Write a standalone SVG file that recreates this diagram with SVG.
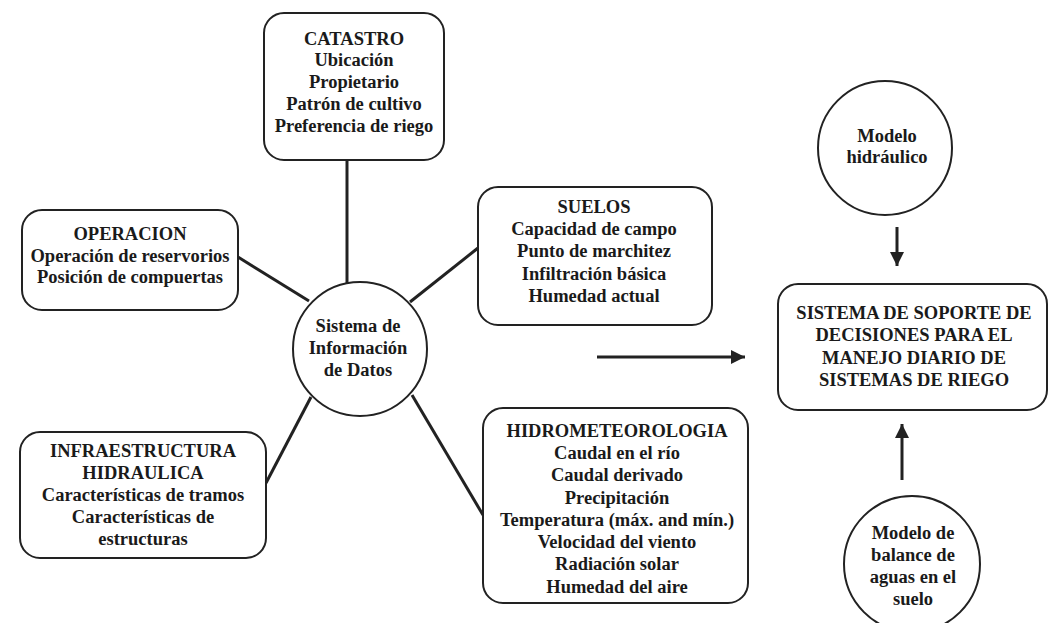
<svg xmlns="http://www.w3.org/2000/svg" width="1050" height="623" viewBox="0 0 1050 623">
<style>
.box{fill:#fff;stroke:#222;stroke-width:2}
.t{font-family:"Liberation Serif","Times New Roman",serif;font-weight:bold;font-size:18.5px;fill:#1a1a1a;text-anchor:middle}
.ln{stroke:#222;stroke-width:3;fill:none}
</style>
<defs>
<marker id="ah" markerUnits="userSpaceOnUse" markerWidth="16" markerHeight="16" viewBox="0 0 16 16" refX="14" refY="8" orient="auto">
<path d="M0,1 L14,8 L0,15 Z" fill="#222"/>
</marker>
</defs>
<rect width="1050" height="623" fill="#fff"/>
<g id="connectors">
<line class="ln" x1="347" y1="160" x2="347" y2="283"/>
<line class="ln" x1="238" y1="257" x2="309" y2="301"/>
<line class="ln" x1="478" y1="248" x2="410" y2="302"/>
<line class="ln" x1="266" y1="483" x2="311" y2="397"/>
<line class="ln" x1="412" y1="395" x2="483" y2="515"/>
<line class="ln" x1="597" y1="357" x2="745" y2="357" marker-end="url(#ah)"/>
<line class="ln" x1="897" y1="227" x2="897" y2="266" marker-end="url(#ah)"/>
<line class="ln" x1="902" y1="480" x2="902" y2="424" marker-end="url(#ah)"/>
</g>
<g id="catastro">
<rect class="box" x="264" y="13" width="180" height="147" rx="20"/>
<text class="t" x="354" y="45">CATASTRO</text>
<text class="t" x="354" y="66">Ubicación</text>
<text class="t" x="354" y="88">Propietario</text>
<text class="t" x="354" y="110">Patrón de cultivo</text>
<text class="t" x="354" y="132">Preferencia de riego</text>
</g>
<g id="operacion">
<rect class="box" x="22" y="210" width="216" height="100" rx="20"/>
<text class="t" x="130" y="240">OPERACION</text>
<text class="t" x="130" y="262">Operación de reservorios</text>
<text class="t" x="130" y="283">Posición de compuertas</text>
</g>
<g id="suelos">
<rect class="box" x="478" y="187" width="234" height="138" rx="20"/>
<text class="t" x="594" y="213">SUELOS</text>
<text class="t" x="594" y="235">Capacidad de campo</text>
<text class="t" x="594" y="257">Punto de marchitez</text>
<text class="t" x="594" y="280">Infiltración básica</text>
<text class="t" x="594" y="302">Humedad actual</text>
</g>
<g id="infraestructura">
<rect class="box" x="20" y="432" width="246" height="126" rx="20"/>
<text class="t" x="143" y="457">INFRAESTRUCTURA</text>
<text class="t" x="143" y="479">HIDRAULICA</text>
<text class="t" x="143" y="501">Características de tramos</text>
<text class="t" x="143" y="523">Características de</text>
<text class="t" x="143" y="545">estructuras</text>
</g>
<g id="hidrometeorologia">
<rect class="box" x="483" y="408" width="265" height="195" rx="20"/>
<text class="t" x="617" y="437">HIDROMETEOROLOGIA</text>
<text class="t" x="617" y="459">Caudal en el río</text>
<text class="t" x="617" y="481">Caudal derivado</text>
<text class="t" x="617" y="504">Precipitación</text>
<text class="t" x="617" y="526">Temperatura (máx. and mín.)</text>
<text class="t" x="617" y="548">Velocidad del viento</text>
<text class="t" x="617" y="570">Radiación solar</text>
<text class="t" x="617" y="593">Humedad del aire</text>
</g>
<g id="sistema-informacion">
<circle class="box" cx="360" cy="349" r="67"/>
<text class="t" x="358" y="332">Sistema de</text>
<text class="t" x="358" y="354">Información</text>
<text class="t" x="358" y="376">de Datos</text>
</g>
<g id="modelo-hidraulico">
<circle class="box" cx="885" cy="148" r="67"/>
<text class="t" x="887" y="142">Modelo</text>
<text class="t" x="887" y="163">hidráulico</text>
</g>
<g id="sistema-soporte">
<rect class="box" x="778" y="284" width="269" height="126" rx="20"/>
<text class="t" x="914" y="319">SISTEMA DE SOPORTE DE</text>
<text class="t" x="914" y="341">DECISIONES PARA EL</text>
<text class="t" x="914" y="364">MANEJO DIARIO DE</text>
<text class="t" x="914" y="386">SISTEMAS DE RIEGO</text>
</g>
<g id="modelo-balance">
<circle class="box" cx="912" cy="564" r="68"/>
<text class="t" x="913" y="539">Modelo de</text>
<text class="t" x="913" y="561">balance de</text>
<text class="t" x="913" y="583">aguas en el</text>
<text class="t" x="913" y="605">suelo</text>
</g>
</svg>
